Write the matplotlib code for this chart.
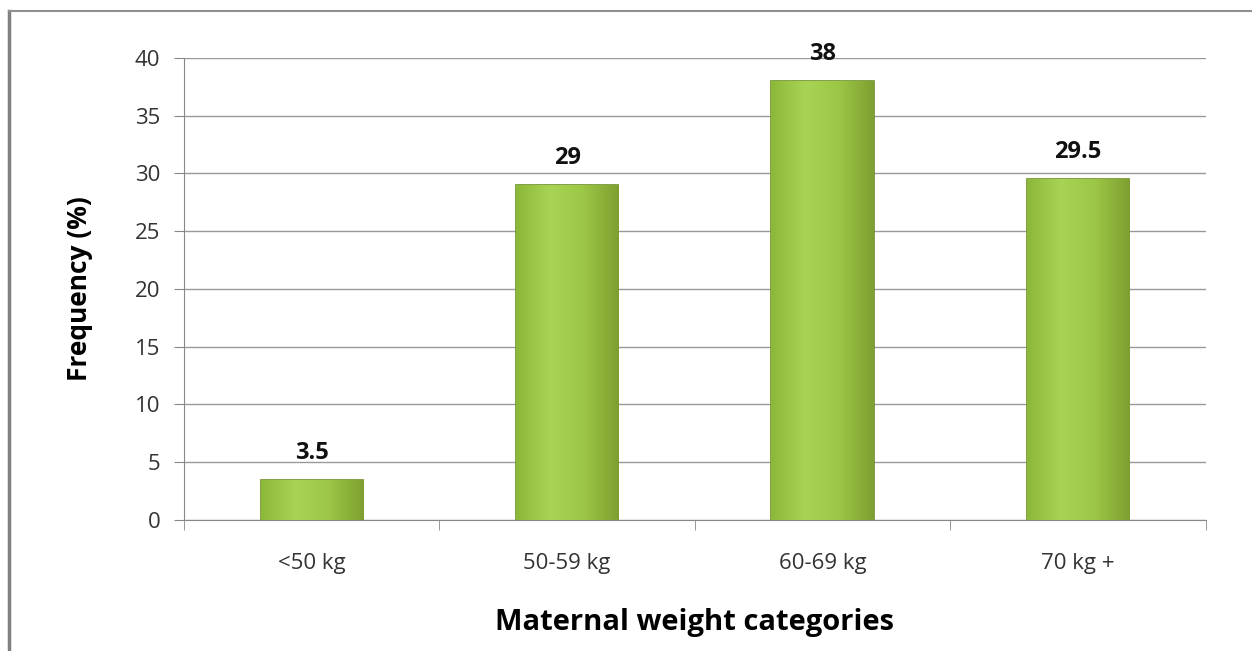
import numpy as np
import matplotlib.pyplot as plt
from matplotlib.lines import Line2D
from matplotlib.colors import LinearSegmentedColormap

categories = ['<50 kg', '50-59 kg', '60-69 kg', '70 kg +']
values = [3.5, 29, 38, 29.5]
value_labels = ['3.5', '29', '38', '29.5']
yticks = [0, 5, 10, 15, 20, 25, 30, 35, 40]

plt.rcParams['font.family'] = ['Open Sans', 'DejaVu Sans']

fig = plt.figure(figsize=(12.52, 6.51), dpi=100)
ax = fig.add_axes([0.147, 0.2012, 0.816, 0.710])

x = np.arange(len(categories))
bars = ax.bar(x, values, width=0.4, color='#96c03e', edgecolor='#6e8e2a', linewidth=1.2, zorder=3)

# horizontal gradient inside each bar
grad = np.linspace(0, 1, 256).reshape(1, -1)
cmap = LinearSegmentedColormap.from_list('g', ['#8cb83a', '#a9d354', '#9cc645', '#7e9f30'])
for b in bars:
    x0, y0 = b.get_x(), b.get_y()
    w, h = b.get_width(), b.get_height()
    im = ax.imshow(grad, extent=[x0, x0 + w, y0, y0 + h], aspect='auto', cmap=cmap, zorder=3.5)
    im.set_clip_path(b)

for xi, v, lab in zip(x, values, value_labels):
    ax.text(xi, v + 1.3, lab, ha='center', va='bottom', fontsize=17, fontweight='bold', color='#111111')

ax.set_xlim(-0.5, len(categories) - 0.5)
ax.set_ylim(0, 40)
ax.set_yticks(yticks)
ax.set_xticks(x)
ax.set_xticklabels(categories)
ax.set_xticks(np.arange(-0.5, len(categories)), minor=True)
ax.tick_params(axis='x', which='major', length=0, pad=24, labelsize=16, labelcolor='#333333')
ax.tick_params(axis='x', which='minor', length=7, color='#888888')
ax.tick_params(axis='y', length=7, color='#888888', labelsize=16, pad=10, labelcolor='#333333')
ax.yaxis.grid(True, color='#999999', linewidth=1, zorder=0)
ax.set_axisbelow(True)
for s in ['top', 'right']:
    ax.spines[s].set_visible(False)
for s in ['left', 'bottom']:
    ax.spines[s].set_color('#888888')

ax.set_ylabel('Frequency (%)', fontsize=19, fontweight='bold', labelpad=30)
ax.set_xlabel('Maternal weight categories', fontsize=21, fontweight='bold', labelpad=24)

# outer chart border (left and top edges visible)
fig.add_artist(Line2D([9 / 1252, 9 / 1252], [0, 1 - 11 / 651], transform=fig.transFigure, color='#808080', lw=2.5))
fig.add_artist(Line2D([9 / 1252, 1], [1 - 11 / 651, 1 - 11 / 651], transform=fig.transFigure, color='#909090', lw=1.5))

plt.savefig('out.png', dpi=100)
